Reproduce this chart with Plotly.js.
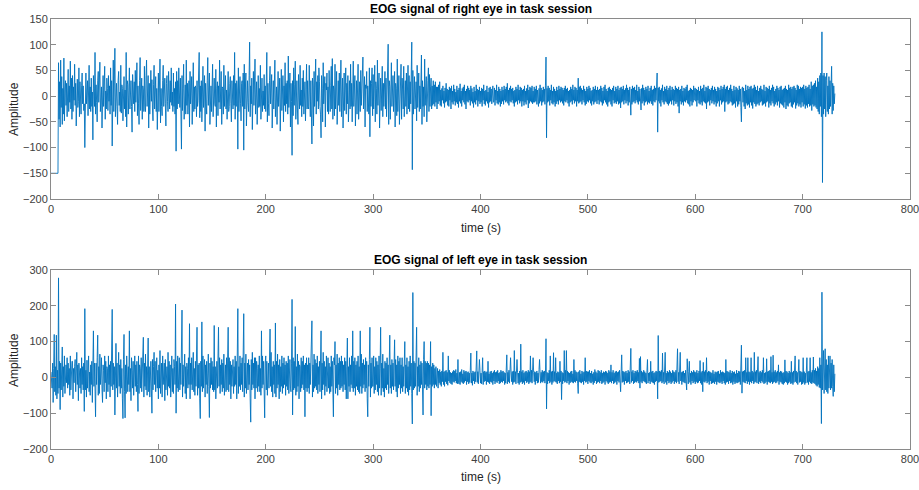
<!DOCTYPE html>
<html><head><meta charset="utf-8">
<script src="https://cdn.plot.ly/plotly-3.0.1.min.js"></script>
<style>html,body{margin:0;padding:0;background:#fff}#chart{width:919px;height:490px}</style>
</head><body><div id="chart"></div>
<script>
// Sampling: one value every 0.5 s, starting at t = 0 s (20 values = 10 s per row)
const t0 = 0;
const dt = 0.5;

// EOG signal of right eye (amplitude), t = 0..730 s
const rightEye = [
-150,-150,-150,-150,-150,-150,-150,-150,-150,-150,-150,-150,-150,-150,65,-45,28,-60,70,-22,
38,-55,15,-35,74,-48,12,30,-18,25,-40,8,52,-30,20,-12,68,-25,35,-45,
40,-30,18,-8,62,-18,25,-58,10,33,-22,-10,55,-40,28,5,-35,20,45,-15,
20,-28,-15,-100,30,45,-15,22,30,-38,12,60,-25,18,-30,35,-20,8,-85,40,
15,-20,85,-35,22,-12,-50,30,48,-12,20,66,-30,10,18,-62,25,40,-20,12,
58,-45,10,-25,35,15,-28,40,-10,20,-35,55,-18,30,-97,25,70,-30,12,93,
-40,18,25,-20,-55,30,48,-18,8,-30,60,-33,22,15,-48,30,38,-25,12,-40,
85,-60,30,22,-35,10,55,-25,18,30,-20,-70,42,15,-15,28,-30,50,-12,20,
65,-38,20,-15,-55,30,75,-28,12,35,-45,20,12,-30,58,-20,-30,40,70,-20,
15,40,-62,25,-35,18,50,-10,32,-25,-48,22,60,-25,10,38,-30,15,-65,20,
45,-30,18,72,-52,15,-20,-38,30,60,-20,12,35,-15,-58,25,40,-10,-30,48,
22,-25,30,-12,55,-18,8,-30,45,-20,15,-35,28,-107,48,-25,30,-15,55,10,
-22,35,-30,-103,40,-28,15,62,-45,18,22,-35,70,-18,25,-35,12,30,-60,48,
-15,20,38,-55,10,65,-30,18,-25,20,15,-40,30,-20,-8,45,85,-42,20,-30,
30,-50,18,58,-22,12,40,-68,25,-15,-35,30,75,-18,20,45,-55,12,20,-30,
10,62,-40,25,35,-15,-20,52,-60,15,28,-38,20,-12,70,-25,35,48,-55,18,
15,-35,60,-20,30,40,-25,12,-45,20,48,-30,-20,25,38,-15,-50,30,12,-25,
40,-18,85,-45,25,-20,30,12,-103,55,-30,20,38,-15,-48,25,30,-20,45,-105,
62,-25,15,45,-58,20,30,-12,-30,40,105,-40,20,-15,35,-65,18,48,-18,25,
72,-35,12,28,-55,30,40,-22,15,-20,60,-45,25,35,-30,10,-18,42,-25,20,
-30,20,85,-50,25,-15,-38,30,58,-15,20,42,-62,18,30,-25,15,70,-40,12,
18,-55,30,48,-20,15,35,-68,22,52,-28,12,40,-50,20,-18,65,-30,25,-15,
30,-35,78,-22,20,45,-60,25,-10,-115,30,-38,55,-18,22,68,-45,15,30,-25,
-55,42,20,-25,60,-18,12,-40,35,-20,50,-35,18,28,-48,15,62,-25,30,-20,
-25,60,18,-40,30,-12,-93,35,20,-58,48,-20,15,72,-35,28,-10,40,-25,55,
28,-20,-35,-81,40,15,-50,65,-15,22,38,-60,25,12,45,-30,18,-35,50,-20,
-30,20,58,-25,73,-45,20,12,-38,62,-25,30,48,-55,15,30,-18,45,-30,22,
70,-40,15,35,-62,20,45,-28,12,55,-35,25,-15,40,-50,18,30,-25,62,-20,
25,-50,18,68,-20,30,40,-58,12,30,-35,20,62,-45,15,28,-30,50,-18,22,
35,76,-25,18,38,-60,22,15,48,-30,20,-12,-35,55,-79,30,-20,25,55,-38,
42,-25,18,60,-50,28,15,-35,70,-18,25,45,-62,20,35,-28,12,58,-40,25,
-20,30,48,-25,35,-40,22,15,101,-55,30,18,-45,25,65,-20,12,40,-30,20,
48,-60,25,15,-38,72,-30,20,40,-55,15,20,62,-45,35,12,-25,58,-40,22,
30,-20,45,-35,18,60,-25,40,-30,28,-15,50,105,-143,50,-35,20,38,-25,15,
28,-48,60,-22,15,45,-30,20,-25,40,80,-55,30,-20,18,-40,72,-18,25,38,
-50,25,30,55,-30,42,-20,18,35,-25,20,-18,30,-15,22,-20,28,-12,18,-25,
18,-15,22,-10,28,-18,12,-20,15,-8,20,-14,10,-22,16,-12,25,-10,14,-18,
12,-20,18,-8,15,-25,20,-12,10,-16,22,-10,14,-18,8,-12,20,-15,12,-22,
16,-10,24,-14,10,-20,15,-8,18,-12,22,-16,10,-25,14,-10,20,-12,16,-8,
12,-18,20,-10,15,-14,8,-22,18,-12,10,-16,22,-8,14,-20,12,-10,18,-15,
10,-12,16,-20,14,-8,22,-15,10,-18,12,-10,20,-14,8,-22,16,-12,18,-10,
14,-15,12,20,-12,-10,16,-18,12,-8,22,-14,10,-16,18,-12,14,-20,10,-15,
18,-10,12,-16,20,-8,14,-12,18,-10,25,-14,12,-18,16,-10,20,-12,14,-8,
16,-14,10,-20,12,-12,18,-10,14,-16,22,-8,12,-14,18,-10,16,-20,12,-10,
14,-18,20,-12,10,-16,15,-8,22,-23,12,-14,18,-10,16,-12,20,-15,10,-12,
18,-12,14,-10,20,-16,12,-8,-20,15,-14,22,-10,16,-18,12,-12,18,-10,14,
-16,20,76,-81,15,-12,20,-10,16,-18,12,-8,22,-14,10,-16,18,-12,14,-20,
10,-15,18,-10,12,-16,20,-8,14,-12,18,-10,16,-14,12,-18,16,-10,20,-12,
14,-8,16,-14,10,-20,12,-12,18,-10,14,-16,22,-8,12,-14,18,-10,16,-20,
12,-10,35,-14,18,-12,20,-10,15,-16,12,-8,20,-12,14,-18,10,-15,18,-10,
14,-12,20,-8,16,-14,10,-18,12,-10,18,-16,14,-12,20,-10,12,-15,18,-8,
12,-16,14,-10,20,-12,16,-18,10,-14,18,-8,22,-12,14,-16,10,-20,16,-12,
18,-10,14,-16,12,-20,16,-8,20,-14,10,-12,18,-15,14,-10,20,-16,12,-14,
16,-23,18,-12,14,-10,20,-16,12,-8,15,-14,22,-10,16,-18,12,-12,18,-10,
-37,14,-16,20,-12,16,-10,18,-14,12,-8,22,-12,10,-16,18,-10,14,-20,-27,
15,-14,22,-10,16,-18,12,-12,18,-10,14,-16,20,-12,10,-14,16,-10,20,-15,
12,-18,14,-10,20,-12,16,-8,18,45,-70,16,-10,18,-14,12,-20,15,-8,22,
-12,10,-16,18,-10,14,-12,20,-15,12,-18,16,-14,20,-10,12,-16,18,-8,14,
-18,12,-10,20,-15,16,-12,14,-20,18,-33,12,-10,14,-16,20,-12,10,-18,16,
-10,14,-12,18,-8,22,-14,10,-16,12,-20,16,-10,14,-18,12,-12,20,-8,14,
16,-10,14,-20,12,-8,18,-14,10,-16,20,-12,14,-18,16,-10,22,-12,10,-14,
18,-25,16,-12,20,-10,14,-18,12,-8,16,-14,20,-10,12,-16,18,-12,14,-20,
10,-14,18,-10,16,-20,12,-8,20,-16,14,-12,18,-10,22,-30,14,-12,18,-10,
20,-16,12,-14,16,-10,22,-12,14,-18,10,-16,20,-14,12,-22,18,-10,15,-20,
12,-16,20,-10,14,-22,-50,15,18,-12,16,-20,10,-25,22,-14,12,-18,20,-16,
14,-22,18,-12,20,-18,14,-24,16,-12,22,-15,18,-20,12,-16,20,-14,10,-18,
16,-12,20,-10,14,-18,12,-16,22,-14,10,-20,18,-12,16,-10,14,-22,20,-14,
12,-18,16,-10,22,-14,18,-20,10,-16,14,-12,20,-18,16,-10,12,-22,18,-14,
20,-16,12,-18,14,-22,16,-12,20,-25,14,-18,12,-20,22,-14,16,-12,18,-20,
14,-22,18,-16,20,-12,16,-24,12,-18,22,-14,20,-20,14,-16,18,-22,16,-12,
18,-20,22,-16,14,-24,20,-18,16,-22,18,-15,22,-20,14,-18,28,-28,20,-16,
22,-20,25,-18,30,-22,18,-25,35,-30,28,-35,40,-20,45,-40,125,-168,40,-35,
45,-25,38,-40,30,45,-30,20,-35,38,-25,30,-20,35,58,-35,25,-28,20,-15,
5
];

// EOG signal of left eye (amplitude), t = 0..730 s
const leftEye = [
15,-20,-30,40,-70,25,120,-40,30,-50,118,-60,20,-45,278,-30,45,-90,40,-35,
30,85,-55,30,-25,60,-45,20,35,-15,55,-30,40,-20,25,-50,60,-35,18,45,
45,-60,25,-15,30,50,-40,20,70,-20,35,-65,40,15,-30,25,-45,55,-20,30,
-35,40,-95,192,-35,20,-55,48,-30,25,60,-40,15,-50,35,-20,45,-70,20,130,
-25,40,-30,-110,40,-20,55,118,-50,30,-45,65,-20,25,55,-35,-70,35,20,-40,
60,-15,45,-60,30,25,-40,60,-20,35,-55,45,-25,70,190,-35,40,-20,30,-105,
40,95,-30,40,-55,20,70,-25,35,-45,50,-30,25,-60,-115,50,120,-40,-113,35,
-45,60,25,-40,30,-20,130,-40,25,-65,55,20,-30,45,-50,30,60,-25,35,-40,
45,-20,-95,60,-45,35,25,-30,55,-40,20,45,112,-55,40,-25,65,-35,30,-50,
40,110,-40,30,-55,25,45,-35,-100,50,-35,30,70,-20,45,-40,25,55,-30,20,
-60,35,-30,75,-45,25,40,-55,60,-20,30,40,-65,50,-35,25,30,-50,70,-25,
45,-30,35,-55,20,60,-40,25,-45,50,30,-20,205,-100,45,-30,60,-40,20,55,
-35,40,-20,60,188,-55,35,-25,45,65,-45,30,-60,40,25,-30,55,-20,150,-60,
40,-20,55,-35,30,70,-40,25,-50,45,-25,60,140,-50,35,-30,40,-60,-115,45,
-25,155,-40,60,-30,25,50,-55,35,-20,45,-45,30,65,-25,-112,40,-30,55,-20,
45,-35,30,-40,145,-35,30,-60,25,45,-30,55,140,-25,55,-45,35,-20,50,-40,
40,-30,65,-50,25,35,-40,55,-35,70,140,-40,55,-20,45,-60,35,-25,30,50,
-45,30,-25,60,-20,45,-60,35,192,-45,30,-25,60,-35,40,-20,55,-40,25,178,
-55,40,-30,65,-45,25,40,-35,50,-20,35,-60,-125,50,-35,70,-20,40,-30,55,
-60,55,-30,45,25,-40,35,-25,60,-40,25,-50,130,-30,60,-20,45,-35,-113,40,
60,-35,45,-50,25,40,-30,55,135,-25,70,-40,30,-55,45,-20,35,-45,152,-55,
45,-30,65,-20,35,-60,50,-40,30,-25,60,-45,40,-30,55,-20,35,-50,45,-25,
40,-35,60,-45,25,50,-30,-40,40,218,-105,55,-35,45,-30,142,-50,30,-40,65,
-25,45,-60,35,30,-40,55,-30,45,-20,60,-35,35,-110,40,-30,55,-40,35,-30,
55,-45,40,-20,35,60,158,-55,35,-40,65,-30,50,-25,40,-35,60,-45,30,-20,
45,-40,35,130,-60,40,-35,70,-20,45,-50,30,-25,60,-40,35,55,-30,40,-45,
30,-40,60,-25,45,-35,-110,55,35,100,-45,35,-30,65,-50,40,-20,55,-35,45,
-30,60,-25,45,-40,35,-20,55,-35,45,-60,30,110,-60,30,-25,55,-40,35,-20,
60,-30,130,-40,45,-30,55,-50,35,-25,45,-35,60,-40,30,-45,130,-25,65,-45,
40,-30,50,-20,35,-40,55,-30,45,-60,-110,35,-25,50,140,-55,40,-30,55,-25,
-25,60,-45,30,-35,55,-20,45,-40,35,-50,60,-30,25,140,-50,40,-30,65,-40,
25,-55,45,-30,40,-35,55,-20,35,-45,30,118,-30,35,-45,50,-25,40,-35,60,
105,-25,50,-40,35,-55,60,-30,45,-20,55,-45,35,-30,55,-40,30,-25,45,100,
-45,35,-30,55,-40,30,-50,45,-35,60,-25,40,-45,-130,237,-35,45,-30,40,-25,
55,140,-50,30,-25,55,-40,35,-30,45,-20,40,-35,-105,50,100,-30,45,-20,40,
-35,45,-25,40,-30,35,-20,100,-107,30,-25,40,-20,35,-30,25,-20,30,-25,20,
25,-30,18,-15,22,-20,15,-25,18,-12,70,-20,15,-25,18,-12,20,-18,14,-22,
60,-10,20,-15,14,-18,12,-20,16,-12,20,-14,18,-10,22,-16,12,-18,50,-15,
-18,14,-20,16,-12,22,-15,10,-18,20,-14,16,-10,18,-20,14,-12,16,-18,12,
-14,20,68,-16,12,-22,18,-10,14,-18,16,-12,20,74,-14,16,-18,12,50,20,
-16,12,-18,14,55,-20,16,-12,18,-10,14,-20,16,-12,45,-14,10,-18,16,-12,
18,-14,12,-20,16,-10,20,-18,14,-12,16,-15,20,-10,12,-18,14,-16,20,-12,
16,-14,18,-10,14,-20,12,-16,22,63,-18,14,-12,20,-16,10,55,14,-12,16,
-20,18,-14,75,-12,16,-18,20,50,14,-16,12,-20,18,-14,93,-12,16,-18,20,
-14,12,-20,16,-10,18,-15,14,-12,20,-18,16,-14,60,-12,20,-16,10,55,14,
-12,16,-20,14,-10,18,-16,12,-14,22,50,10,-16,14,-12,20,-14,16,-10,18,
-16,12,108,-88,14,-18,12,-10,20,-16,60,-12,16,-20,18,-14,69,-10,16,-12,
55,-14,12,-18,16,-10,14,-16,45,-12,18,-62,14,-18,12,-10,75,-14,20,-12,
75,-16,18,-10,14,-20,12,-15,16,-12,18,-14,10,-16,50,-12,20,-14,16,-10,
14,-18,-45,16,-12,20,-14,10,-16,18,-12,14,-20,16,-10,55,-14,18,-12,16,
-18,16,-10,20,-14,12,-16,18,-12,10,-20,14,-15,22,-10,16,-18,12,-14,20,
-12,18,-16,14,-10,20,-18,12,-15,16,-12,14,-20,18,-10,16,-14,12,-18,20,
-14,16,-12,35,-16,14,-10,20,-18,12,-15,16,-12,18,-20,14,-10,16,-14,20,
-12,-40,16,63,-14,18,-12,16,-20,14,-10,18,-16,12,-14,20,-12,16,-18,14,
81,-14,16,-10,20,-18,12,-15,18,-12,16,-14,20,-10,14,-16,53,-30,58,-12,
18,-16,14,-10,20,-12,16,-14,12,-18,20,50,-16,12,-10,14,-18,45,-12,16,
-14,18,-16,12,-20,14,-12,18,-10,16,-60,117,-14,18,-12,16,-10,20,-16,68,
-12,14,-18,16,70,-14,12,-20,18,-10,14,-16,20,-12,16,-18,12,-14,20,-10,
16,-18,14,-12,20,-16,18,80,-12,14,-18,16,70,-10,14,-20,16,-12,18,-14,
12,-16,20,-12,-35,52,14,-18,16,45,-14,12,-20,18,-10,14,-16,20,-12,16,
-18,14,-12,20,-16,12,-14,18,-10,47,-16,14,-20,18,-40,42,-12,16,-14,20,
-10,55,-16,14,-12,18,-20,16,-10,14,-18,12,-16,20,-14,10,-18,16,-12,14,
-20,16,-12,18,-14,10,-16,20,-12,14,-18,16,-10,14,-16,12,-20,50,-14,18,
-12,16,-18,14,-10,20,-16,12,-14,18,-20,14,-12,16,-18,10,-14,20,-16,12,
-14,18,-12,16,-20,14,90,-44,16,-12,18,-14,20,-16,55,-10,14,-18,55,-12,
16,-20,14,-12,55,-16,18,-10,14,-18,70,-14,16,-12,20,-16,12,58,-18,14,
-12,18,-16,14,-10,20,-14,55,-18,12,-16,14,-12,52,-20,16,-12,18,-14,20,
-16,58,-12,14,-18,62,-14,16,-12,20,-16,14,-14,18,-10,35,-20,14,-12,18,
-14,16,-18,12,-20,14,-16,49,-12,18,-14,16,-20,12,-16,18,-12,14,-18,45,
-16,14,-20,18,-14,16,60,-12,18,-16,14,-20,16,50,-14,18,-12,16,-20,14,
-18,55,-14,16,-20,12,-16,18,55,-14,16,-20,18,-12,55,-16,14,-18,20,-14,
57,-16,20,-18,25,-22,18,-25,30,-20,25,-28,55,-30,35,-129,238,-35,40,75,
-45,40,80,-35,50,-40,35,-45,60,-30,45,60,-35,40,-30,50,-25,-53,35,-40,
10
];

const xTicks = [0,100,200,300,400,500,600,700,800];
const yTicksTop = [-200,-150,-100,-50,0,50,100,150];
const yTicksBottom = [-200,-100,0,100,200,300];
const titleTop = 'EOG signal of right eye in task session';
const titleBottom = 'EOG signal of left eye in task session';
const xLabel = 'time (s)';
const yLabel = 'Amplitude';

const lineStyle = {color:'#0072BD', width:0.9};
const traces = [
  {type:'scatter', mode:'lines', x0:t0, dx:dt, y:rightEye, line:lineStyle, xaxis:'x', yaxis:'y', hoverinfo:'skip'},
  {type:'scatter', mode:'lines', x0:t0, dx:dt, y:leftEye, line:lineStyle, xaxis:'x2', yaxis:'y2', hoverinfo:'skip'}
];

const tickFont = {family:'Liberation Sans, Arial, sans-serif', size:11, color:'#404040'};
function xax(anchor){ return {
  range:[0,800], tickvals:xTicks, ticks:'inside', ticklen:5, tickcolor:'#8a8a8a',
  showline:true, linecolor:'#8a8a8a', linewidth:1, mirror:'ticks', showgrid:false, zeroline:false,
  tickfont:tickFont, ticklabeloverflow:'allow', anchor:anchor, domain:[0,1]
};}
function yax(range, ticks, domain, anchor){ return {
  range:range, tickvals:ticks, ticks:'inside', ticklen:5, tickcolor:'#8a8a8a',
  showline:true, linecolor:'#8a8a8a', linewidth:1, mirror:'ticks', showgrid:false, zeroline:false,
  tickfont:tickFont, ticklabeloverflow:'allow', anchor:anchor, domain:domain
};}

const H = 490, mt = 19, mb = 41, ph = H - mt - mb;
const pf = px => 1 - (px - mt) / ph;
const textFont = {family:'Liberation Sans, Arial, sans-serif', size:12, color:'#262626'};
const titleFont = {family:'Liberation Sans, Arial, sans-serif', size:12, color:'#000000'};

const layout = {
  width:919, height:490, showlegend:false,
  margin:{l:51, r:9, t:mt, b:mb},
  paper_bgcolor:'#ffffff', plot_bgcolor:'#ffffff',
  xaxis: xax('y'),
  yaxis: yax([-200,150], yTicksTop, [pf(199),1], 'x'),
  xaxis2: xax('y2'),
  yaxis2: yax([-200,300], yTicksBottom, [0,pf(270)], 'x2'),
  annotations:[
    {text:'<b>'+titleTop+'</b>', xref:'paper', yref:'paper', x:0.5, y:pf(9), xanchor:'center', yanchor:'middle', showarrow:false, font:titleFont},
    {text:'<b>'+titleBottom+'</b>', xref:'paper', yref:'paper', x:0.5, y:pf(260), xanchor:'center', yanchor:'middle', showarrow:false, font:titleFont},
    {text:xLabel, xref:'paper', yref:'paper', x:0.5, y:pf(228), xanchor:'center', yanchor:'middle', showarrow:false, font:textFont},
    {text:xLabel, xref:'paper', yref:'paper', x:0.5, y:pf(477), xanchor:'center', yanchor:'middle', showarrow:false, font:textFont},
    {text:yLabel, xref:'paper', yref:'paper', x:(14-51)/859, y:pf(109), xanchor:'center', yanchor:'middle', textangle:-90, showarrow:false, font:textFont},
    {text:yLabel, xref:'paper', yref:'paper', x:(14-51)/859, y:pf(360), xanchor:'center', yanchor:'middle', textangle:-90, showarrow:false, font:textFont}
  ]
};

Plotly.newPlot('chart', traces, layout, {staticPlot:true, displayModeBar:false});
</script>
</body></html>
